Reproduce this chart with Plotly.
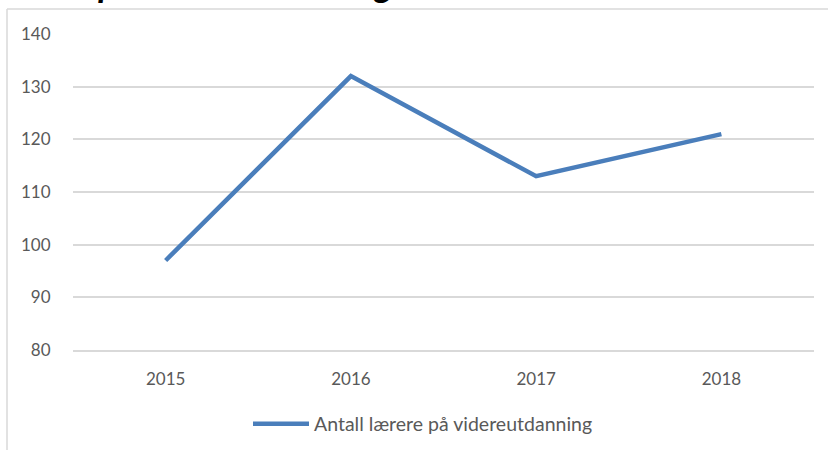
import plotly.graph_objects as go

years = ["2015", "2016", "2017", "2018"]
teachers = [97, 132, 113, 121]
y_ticks = [80, 90, 100, 110, 120, 130, 140]
series_name = "Antall lærere på videreutdanning"
title_text = "Antall lærere på videreutdanning"

W, H = 828, 450
L, R, T, B = 73, 14, 34, 100
pw, ph = W - L - R, H - T - B

def px(x):
    return (x - L) / pw

def py(y):
    return (H - B - y) / ph

grid = "#d9d9d9"
tick_col = "#595959"
font_fam = "Lato, 'Open Sans', sans-serif"

fig = go.Figure()
fig.add_trace(go.Scatter(
    x=years, y=teachers, mode="lines", name=series_name,
    line=dict(color="#4a7ebb", width=4.5),
))

fig.update_layout(
    width=W, height=H,
    margin=dict(l=L, r=R, t=T, b=B, autoexpand=False),
    paper_bgcolor="white", plot_bgcolor="white",
    showlegend=True,
    legend=dict(orientation="h", x=px(248), xanchor="left", y=py(424), yanchor="middle",
                itemwidth=56,
                font=dict(family=font_fam, size=19.5, color=tick_col)),
    xaxis=dict(type="category", range=[-0.5, 3.5], showgrid=False, automargin=False,
               showline=True, linecolor=grid, linewidth=1.5,
               ticks="outside", ticklen=13, tickcolor="rgba(0,0,0,0)",
               tickfont=dict(family=font_fam, size=17, color=tick_col)),
    yaxis=dict(range=[80, 140], tickvals=y_ticks, showgrid=True, gridcolor=grid, gridwidth=1.5,
               zeroline=False, showline=False, automargin=False,
               ticks="outside", ticklen=18, tickcolor="rgba(0,0,0,0)",
               tickfont=dict(family=font_fam, size=17, color=tick_col)),
    shapes=[
        dict(type="line", xref="paper", yref="paper", x0=px(7), x1=px(7), y0=py(9), y1=py(452),
             line=dict(color=grid, width=1.5)),
        dict(type="line", xref="paper", yref="paper", x0=px(7), x1=px(830), y0=py(9), y1=py(9),
             line=dict(color=grid, width=1.5)),
    ],
    annotations=[
        dict(text="<b><i>" + title_text + "</i></b>", xref="paper", yref="paper",
             x=px(-108), y=py(7), xanchor="left", yanchor="bottom", showarrow=False,
             font=dict(family=font_fam, size=36, color="black")),
    ],
)

fig.write_html("out.html", config={"displayModeBar": False},
               post_script="document.body.style.margin='0';")
